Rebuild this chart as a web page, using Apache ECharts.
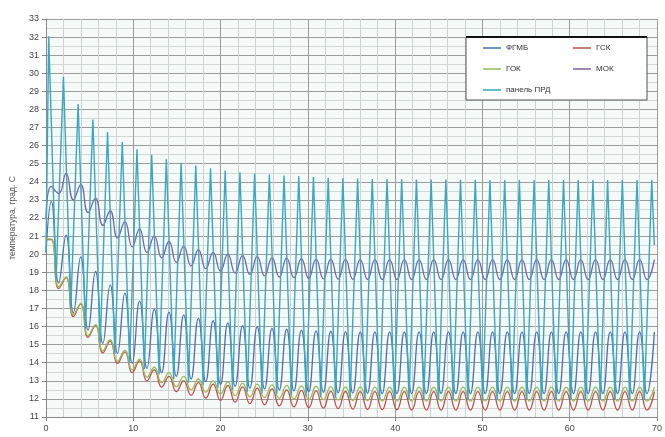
<!DOCTYPE html>
<html>
<head>
<meta charset="utf-8">
<script src="https://cdn.jsdelivr.net/npm/echarts@6/dist/echarts.min.js"></script>
<style>
html,body{margin:0;padding:0;background:#fff;}
#chart{width:665px;height:437px;}
</style>
</head>
<body>
<div id="chart"></div>
<script>
// x positions
const panelPeakX = [0.31,2.00,3.68,5.37,7.05,8.74,10.42,12.11,13.79,15.48,17.16,18.85,20.53,22.22,23.90,25.59,27.27,28.96,30.64,32.33,34.01,35.70,37.38,39.07,40.75,42.44,44.12,45.81,47.49,49.18,50.86,52.55,54.23,55.92,57.60,59.29,60.97,62.66,64.34,66.03,67.71,69.40];
const panelTroughX = [1.15,2.84,4.52,6.21,7.89,9.58,11.26,12.95,14.63,16.32,18.00,19.69,21.37,23.06,24.74,26.43,28.11,29.80,31.48,33.17,34.85,36.54,38.22,39.91,41.59,43.28,44.96,46.65,48.33,50.02,51.70,53.39,55.07,56.76,58.44,60.13,61.81,63.50,65.18,66.87,68.55];
const slowPeakX = [0.61,2.30,3.98,5.67,7.35,9.04,10.72,12.41,14.09,15.78,17.46,19.15,20.83,22.52,24.20,25.89,27.57,29.26,30.94,32.63,34.31,36.00,37.68,39.37,41.05,42.74,44.42,46.11,47.79,49.48,51.16,52.85,54.53,56.22,57.90,59.59,61.27,62.96,64.64,66.33,68.01,69.70];
const slowTroughX = [1.45,3.14,4.82,6.51,8.19,9.88,11.56,13.25,14.93,16.62,18.30,19.99,21.67,23.36,25.04,26.73,28.41,30.10,31.78,33.47,35.15,36.84,38.52,40.21,41.89,43.58,45.26,46.95,48.63,50.32,52.00,53.69,55.37,57.06,58.74,60.43,62.11,63.80,65.48,67.17,68.85];

// series values
const panelStart = 20.1, panelEndX = 69.7, panelEnd = 20.5;
const panelPeaks = [32.05,29.8,28.3,27.45,26.75,26.2,25.8,25.5,25.25,25.05,24.9,24.75,24.62,24.53,24.46,24.4,24.35,24.31,24.27,24.23,24.2,24.18,24.16,24.15,24.14,24.13,24.12,24.12,24.11,24.11,24.1,24.1,24.1,24.1,24.1,24.1,24.1,24.1,24.1,24.1,24.1,24.1];
const panelTroughs = [18.6,17.0,15.9,15.1,14.5,14.0,13.65,13.35,13.1,12.9,12.75,12.6,12.5,12.4,12.32,12.25,12.2,12.15,12.1,12.07,12.05,12.03,12.01,12.0,11.99,11.98,11.97,11.97,11.96,11.96,11.95,11.95,11.95,11.95,11.95,11.95,11.95,11.95,11.95,11.95,11.95];

const fgmbStart = 20.1;
const fgmbPeaks = [22.9,21.05,19.85,19.05,18.3,17.85,17.4,16.95,16.8,16.64,16.45,16.32,16.2,16.05,15.98,15.9,15.85,15.8,15.76,15.74,15.72,15.71,15.7,15.7,15.7,15.7,15.7,15.7,15.7,15.7,15.7,15.7,15.7,15.7,15.7,15.7,15.7,15.7,15.7,15.7,15.7,15.7];
const fgmbTroughs = [18.4,16.75,15.8,15.07,14.52,13.97,13.69,13.45,13.25,13.1,12.95,12.8,12.7,12.6,12.55,12.5,12.45,12.4,12.36,12.34,12.32,12.31,12.3,12.3,12.3,12.3,12.3,12.3,12.3,12.3,12.3,12.3,12.3,12.3,12.3,12.3,12.3,12.3,12.3,12.3,12.3];

const gskStart = 20.8;
const gskPeaks = [20.8,18.7,17.25,16.05,15.2,14.6,14.1,13.6,13.25,13.0,12.9,12.82,12.74,12.66,12.6,12.55,12.5,12.47,12.44,12.42,12.41,12.4,12.4,12.4,12.4,12.4,12.4,12.4,12.4,12.4,12.4,12.4,12.4,12.4,12.4,12.4,12.4,12.4,12.4,12.4,12.4,12.4];
const gskTroughs = [18.1,16.55,15.4,14.55,13.97,13.45,13.0,12.65,12.4,12.2,12.05,11.92,11.82,11.74,11.67,11.61,11.56,11.52,11.49,11.46,11.44,11.42,11.41,11.4,11.39,11.38,11.38,11.38,11.38,11.38,11.38,11.38,11.38,11.38,11.38,11.38,11.38,11.38,11.38,11.38,11.38];

const gokStart = 20.85;
const gokPeaks = [20.85,18.75,17.3,16.1,15.28,14.7,14.2,13.75,13.45,13.25,13.1,13.0,12.94,12.87,12.82,12.78,12.75,12.72,12.7,12.68,12.67,12.66,12.65,12.65,12.65,12.65,12.65,12.65,12.65,12.65,12.65,12.65,12.65,12.65,12.65,12.65,12.65,12.65,12.65,12.65,12.65,12.65];
const gokTroughs = [18.2,16.65,15.5,14.65,14.08,13.6,13.2,12.9,12.67,12.5,12.37,12.27,12.18,12.12,12.07,12.03,12.0,11.97,11.95,11.93,11.91,11.9,11.89,11.88,11.88,11.88,11.88,11.88,11.88,11.88,11.88,11.88,11.88,11.88,11.88,11.88,11.88,11.88,11.88,11.88,11.88];

const mokStart = 22.0;
const mokPeaks = [23.75,24.47,23.85,23.1,22.4,21.8,21.4,21.0,20.7,20.45,20.25,20.1,20.0,19.92,19.86,19.81,19.78,19.75,19.73,19.72,19.71,19.7,19.7,19.7,19.7,19.7,19.7,19.7,19.7,19.7,19.7,19.7,19.7,19.7,19.7,19.7,19.7,19.7,19.7,19.7,19.7,19.7];
const mokTroughs = [23.35,23.0,22.3,21.6,20.9,20.4,20.1,19.8,19.55,19.35,19.2,19.06,18.96,18.88,18.8,18.74,18.7,18.66,18.64,18.62,18.61,18.6,18.6,18.6,18.6,18.6,18.6,18.6,18.6,18.6,18.6,18.6,18.6,18.6,18.6,18.6,18.6,18.6,18.6,18.6,18.6];

const yTicks = {min: 11, max: 33, step: 1};
const xTicks = {min: 0, max: 70, step: 10};

function weave(y0, px, py, tx, ty, endX, endY) {
  const d = [[0, y0]];
  for (let k = 0; k < px.length; k++) {
    d.push([px[k], py[k]]);
    if (k < tx.length) d.push([tx[k], ty[k]]);
  }
  if (endX != null) d.push([endX, endY]);
  return d;
}

const FONT = "'Liberation Sans', Arial, sans-serif";
const chart = echarts.init(document.getElementById('chart'), null, {renderer: 'canvas'});

function line(name, color, data, smooth, width) {
  return {
    name, type: 'line', data, smooth, symbol: 'none',
    lineStyle: {color, width: width || 1.3}, itemStyle: {color},
    animation: false
  };
}

const legendCommon = {
  orient: 'vertical', top: 38, itemGap: 11, icon: 'rect',
  itemWidth: 18, itemHeight: 1.5,
  textStyle: {fontSize: 8, color: '#333', fontFamily: FONT, lineHeight: 10},
  z: 5
};

chart.setOption({
  backgroundColor: '#ffffff',
  animation: false,
  grid: {left: 43, right: 8, top: 19, bottom: 20, show: true, backgroundColor: '#f5f9f7', borderWidth: 0},
  xAxis: {
    type: 'value', min: xTicks.min, max: xTicks.max, interval: xTicks.step,
    axisLine: {show: true, onZero: false, lineStyle: {color: '#888', width: 1}},
    axisTick: {show: true, length: 4, lineStyle: {color: '#888'}},
    axisLabel: {fontSize: 9, color: '#444', fontFamily: FONT, margin: 7},
    splitLine: {show: true, lineStyle: {color: '#9c9c9c', width: 1}},
    minorTick: {show: false, splitNumber: 5},
    minorSplitLine: {show: true, lineStyle: {color: '#cdd3d1', width: 1}}
  },
  yAxis: {
    type: 'value', min: yTicks.min, max: yTicks.max, interval: yTicks.step,
    name: 'температура, град. С', nameLocation: 'middle', nameRotate: 90, nameGap: 29,
    nameTextStyle: {fontSize: 8.5, color: '#555', fontFamily: FONT},
    axisLine: {show: true, lineStyle: {color: '#888', width: 1}},
    axisTick: {show: true, length: 4, lineStyle: {color: '#888'}},
    axisLabel: {fontSize: 9, color: '#444', fontFamily: FONT, margin: 7},
    splitLine: {show: true, lineStyle: {color: '#9c9c9c', width: 1}},
    minorTick: {show: false, splitNumber: 2},
    minorSplitLine: {show: true, lineStyle: {color: '#d3d9d7', width: 1}}
  },
  legend: [
    Object.assign({data: ['ФГМБ', 'ГОК', 'панель ПРД'], left: 478}, legendCommon),
    Object.assign({data: ['ГСК', 'МОК'], left: 568}, legendCommon)
  ],
  graphic: [
    {type: 'rect', z: 3, shape: {x: 466, y: 37, width: 181, height: 63},
     style: {fill: '#ffffff', stroke: '#555', lineWidth: 1}},
    {type: 'line', z: 3, shape: {x1: 466, y1: 37, x2: 647, y2: 37},
     style: {stroke: '#111', lineWidth: 2}}
  ],
  series: [
    line('ФГМБ', '#4a6fb5', weave(fgmbStart, slowPeakX, fgmbPeaks, slowTroughX, fgmbTroughs), 0.5),
    line('ГСК', '#c0504d', weave(gskStart, slowPeakX, gskPeaks, slowTroughX, gskTroughs), 0.5),
    line('ГОК', '#9bbb59', weave(gokStart, slowPeakX, gokPeaks, slowTroughX, gokTroughs), 0.5),
    line('МОК', '#7b62a3', weave(mokStart, slowPeakX, mokPeaks, slowTroughX, mokTroughs), 0.5),
    line('панель ПРД', '#3aa8c0', weave(panelStart, panelPeakX, panelPeaks, panelTroughX, panelTroughs, panelEndX, panelEnd), false, 1.4)
  ]
});
</script>
</body>
</html>
